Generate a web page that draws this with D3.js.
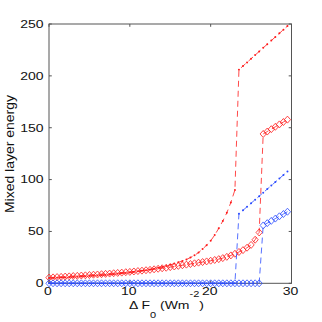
<!DOCTYPE html>
<html><head><meta charset="utf-8">
<script src="https://cdn.jsdelivr.net/npm/d3@7"></script>
<style>html,body{margin:0;padding:0;background:#fff;}svg{display:block;}</style>
</head><body>
<script>
const xVals = [0,0.5,1,1.5,2,2.5,3,3.5,4,4.5,5,5.5,6,6.5,7,7.5,8,8.5,9,9.5,10,10.5,11,11.5,12,12.5,13,13.5,14,14.5,15,15.5,16,16.5,17,17.5,18,18.5,19,19.5,20,20.5,21,21.5,22,22.5,23,23.5,24,24.5,25,25.5,26,26.5,27,27.5,28,28.5,29,29.5];
const redLine = [5.0,5.1,5.3,5.5,5.7,5.9,6.1,6.3,6.5,6.8,7.0,7.3,7.5,7.8,8.1,8.4,8.8,9.2,9.6,10.0,10.5,11.0,11.5,12.1,12.7,13.4,14.1,14.9,15.8,16.8,17.8,19.0,20.2,21.5,23.0,24.8,27.0,29.6,33,36.8,41,46.5,53,60,68,78,90,206,209.5,213,216.5,220,223.5,227,230.5,234,237.5,241,244.5,248];
const redDiam = [5.5,5.7,6.0,6.2,6.5,6.7,7.0,7.2,7.5,7.7,8.0,8.3,8.5,8.8,9.1,9.4,9.7,10.0,10.3,10.7,11.0,11.4,11.8,12.2,12.6,13.0,13.5,14.0,14.5,15.0,15.6,16.2,16.8,17.4,18.0,18.6,19.3,19.9,20.5,21.1,21.8,22.5,23.3,24.3,25.5,26.9,28.5,30.2,32,34.3,37,42,49,144,146.3,148.6,150.9,153.2,155.5,157.8];
const blueLine = [0,0,0,0,0,0,0,0,0,0,0,0,0,0,0,0,0,0,0,0,0,0,0,0,0,0,0,0,0,0,0,0,0,0,0,0,0,0,0,0,0,0,0,0,0,0,0,67,70.4,73.8,77.2,80.6,84,87.4,90.8,94.2,97.6,101,104.4,107.8];
const blueDiam = [0,0,0,0,0,0,0,0,0,0,0,0,0,0,0,0,0,0,0,0,0,0,0,0,0,0,0,0,0,0,0,0,0,0,0,0,0,0,0,0,0,0,0,0,0,0,0,0,0,0,0,0,0,55.8,58,60.2,62.4,64.6,66.8,69];
const xTicks = [0,10,20,30];
const yTicks = [0,50,100,150,200,250];
const yLabel = "Mixed layer energy";

const W = 322, H = 322;
const L = 49, R = 291.5, T = 24, B = 283.3;
const svg = d3.select("body").append("svg").attr("width", W).attr("height", H);
const x = d3.scaleLinear().domain([0,30]).range([L,R]);
const y = d3.scaleLinear().domain([0,250]).range([B,T]);
const FONT = "'Liberation Sans', Arial, Helvetica, sans-serif";

function pts(vals){ return xVals.map((xv,i)=>[xv, vals[i]]); }
const line = d3.line().x(d=>x(d[0])).y(d=>y(d[1]));

// axis box
svg.append("rect").attr("x",L).attr("y",T).attr("width",R-L).attr("height",B-T)
  .attr("fill","none").attr("stroke","#555").attr("stroke-width",1);

// ticks (inward, mirrored)
const tl = 2.8;
const gA = svg.append("g").attr("stroke","#555").attr("stroke-width",1);
xTicks.forEach(t=>{
  gA.append("line").attr("x1",x(t)).attr("x2",x(t)).attr("y1",B).attr("y2",B-tl);
  gA.append("line").attr("x1",x(t)).attr("x2",x(t)).attr("y1",T).attr("y2",T+tl);
});
yTicks.forEach(t=>{
  gA.append("line").attr("x1",L).attr("x2",L+tl).attr("y1",y(t)).attr("y2",y(t));
  gA.append("line").attr("x1",R).attr("x2",R-tl).attr("y1",y(t)).attr("y2",y(t));
});

// tick labels
const sq = 0.75;
xTicks.forEach(t=>{
  svg.append("text").attr("transform",`translate(${x(t)-1},294.7) scale(1,${sq})`)
    .attr("text-anchor","middle").attr("font-family",FONT).attr("font-size",14).attr("fill","#111").text(t);
});
yTicks.forEach(t=>{
  svg.append("text").attr("transform",`translate(43.5,${y(t)+3.8}) scale(1,${sq})`)
    .attr("text-anchor","end").attr("font-family",FONT).attr("font-size",14).attr("fill","#111").text(t);
});

// y label
svg.append("text").attr("transform",`translate(13.5,154) rotate(-90) scale(1,0.9)`)
  .attr("text-anchor","middle").attr("font-family",FONT).attr("font-size",14).attr("fill","#111").text(yLabel);

// x label
const xl = svg.append("text").attr("transform",`translate(129,308.7) scale(1,${sq})`)
  .attr("text-anchor","start").attr("font-family",FONT).attr("font-size",14).attr("fill","#111");
xl.append("tspan").text("\u0394 F");
xl.append("tspan").attr("font-size",11).attr("dy",12.4).text("0");
xl.append("tspan").attr("dy",-12.4).text(" (Wm");
xl.append("tspan").attr("font-size",11).attr("dy",-16).text("-2");
xl.append("tspan").attr("dy",16).text(")");

function series(vals, color, kind){
  const g = svg.append("g");
  g.append("path").attr("d", line(pts(vals))).attr("fill","none").attr("stroke",color)
    .attr("stroke-width",0.8).attr("stroke-dasharray","6,4");
  if(kind==="dot"){
    g.selectAll("circle").data(pts(vals)).enter().append("circle")
      .attr("cx",d=>x(d[0])).attr("cy",d=>y(d[1])).attr("r",1).attr("fill",color);
  } else {
    const hw=3.1, hh=3.5;
    g.selectAll("path.m").data(pts(vals)).enter().append("path").attr("class","m")
      .attr("d",d=>{const cx=x(d[0]), cy=y(d[1]); return `M${cx},${cy-hh}L${cx+hw},${cy}L${cx},${cy+hh}L${cx-hw},${cy}Z`;})
      .attr("fill","none").attr("stroke",color).attr("stroke-width",0.8);
  }
}
series(redLine, "#ff1a1a", "dot");
series(redDiam, "#ff1a1a", "diam");
series(blueLine, "#2a4bff", "dot");
series(blueDiam, "#2a4bff", "diam");
</script>
</body></html>
